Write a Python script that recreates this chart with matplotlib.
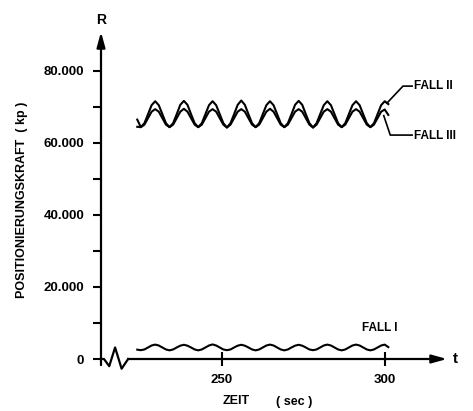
import matplotlib.pyplot as plt

plt.rcParams['font.family'] = ['Liberation Sans', 'DejaVu Sans']
plt.rcParams['font.weight'] = 'bold'

# time samples (sec), read about every 1.1 s along the curves
zeit = [224.0, 225.1, 226.2, 227.3, 228.4, 229.5, 230.6, 231.7, 232.8, 233.9,
        235.0, 236.1, 237.2, 238.3, 239.4, 240.5, 241.6, 242.7, 243.8, 244.9,
        246.0, 247.1, 248.2, 249.3, 250.4, 251.5, 252.6, 253.7, 254.8, 255.9,
        257.0, 258.1, 259.2, 260.3, 261.4, 262.5, 263.6, 264.7, 265.8, 266.9,
        268.0, 269.1, 270.2, 271.3, 272.4, 273.5, 274.6, 275.7, 276.8, 277.9,
        279.0, 280.1, 281.2, 282.3, 283.4, 284.5, 285.6, 286.7, 287.8, 288.9,
        290.0, 291.1, 292.2, 293.3, 294.4, 295.5, 296.6, 297.7, 298.8, 299.9,
        301.0]

# positionierungskraft (kp)
fall_1 = [2600, 2450, 2650, 3200, 3750, 4000, 3750, 3200,
          2650, 2400, 2650, 3200, 3700, 3950, 3700, 3200,
          2650, 2400, 2650, 3200, 3750, 4050, 3750, 3200,
          2650, 2450, 2650, 3200, 3700, 3950, 3700, 3200,
          2650, 2400, 2650, 3200, 3750, 4000, 3750, 3200,
          2650, 2400, 2650, 3200, 3700, 3950, 3700, 3200,
          2650, 2450, 2650, 3200, 3750, 4000, 3750, 3200,
          2650, 2400, 2650, 3200, 3750, 4000, 3750, 3200,
          2650, 2400, 2650, 3200, 3750, 4000, 3300]

fall_2 = [66500, 64400, 65500, 68000, 70500, 71600, 70500, 68000,
          65500, 64400, 65500, 68000, 70600, 71700, 70600, 68000,
          65500, 64400, 65500, 68000, 70500, 71600, 70500, 68000,
          65500, 64300, 65500, 68000, 70600, 71800, 70600, 68000,
          65500, 64400, 65500, 68000, 70500, 71600, 70500, 68000,
          65500, 64400, 65500, 68000, 70600, 71700, 70600, 68000,
          65500, 64300, 65500, 68000, 70500, 71600, 70500, 68000,
          65500, 64400, 65500, 68000, 70500, 71600, 70500, 68000,
          65500, 64400, 65500, 68000, 70500, 71600, 70800]

fall_3 = [64500, 64400, 65100, 66900, 68700, 69400, 68700, 66900,
          65100, 64400, 65100, 66900, 68700, 69500, 68700, 66900,
          65100, 64400, 65100, 66900, 68700, 69400, 68700, 66900,
          65100, 64300, 65100, 66900, 68700, 69400, 68700, 66900,
          65100, 64400, 65100, 66900, 68700, 69500, 68700, 66900,
          65100, 64400, 65100, 66900, 68700, 69400, 68700, 66900,
          65100, 64300, 65100, 66900, 68700, 69400, 68700, 66900,
          65100, 64400, 65100, 66900, 68700, 69400, 68700, 66900,
          65100, 64400, 65100, 66900, 68700, 69300, 67800]

y_ticks = [0, 20000, 40000, 60000, 80000]
y_tick_labels = ['0', '20.000', '40.000', '60.000', '80.000']
y_minor = [10000, 30000, 50000, 70000]
x_ticks = [250, 300]
x_tick_labels = ['250', '300']

# axis break symbol at the start of the time axis
break_t = [212.88, 213.8, 215.4, 217.2, 219.2, 221.2]
break_r = [0, 0, -2000, 3200, -2700, 0]

fig = plt.figure(figsize=(4.73, 4.11), dpi=100)
ax = fig.add_axes([101 / 473, 52 / 411, 346 / 473, 327 / 411])
ax.set_xlim(212.88, 319.0)
ax.set_ylim(0, 90830)
for s in ax.spines.values():
    s.set_visible(False)

ax.plot(zeit, fall_2, color='k', lw=1.5, solid_joinstyle='round')
ax.plot(zeit, fall_3, color='k', lw=1.5, solid_joinstyle='round')
ax.plot(zeit, fall_1, color='k', lw=1.5, solid_joinstyle='round')

# axes with arrows
ax.plot(break_t, break_r, color='k', lw=1.6, clip_on=False)
ax.annotate('', xy=(1.0, 0), xycoords=('axes fraction', 'data'),
            xytext=(221.2, 0), textcoords='data',
            arrowprops=dict(arrowstyle='-|>,head_length=0.9,head_width=0.25',
                            color='k', lw=1.6, shrinkA=0, shrinkB=0))
ax.annotate('', xy=(212.88, 90830), xycoords='data',
            xytext=(212.88, -1700), textcoords='data',
            arrowprops=dict(arrowstyle='-|>,head_length=0.9,head_width=0.25',
                            color='k', lw=1.6, shrinkA=0, shrinkB=0))

ax.set_yticks(y_ticks)
ax.set_yticklabels(y_tick_labels)
ax.set_yticks(y_minor, minor=True)
ax.set_xticks(x_ticks)
ax.set_xticklabels(x_tick_labels)
ax.tick_params(axis='y', which='both', direction='out', length=6, width=1.5,
               pad=6, labelsize=9.5)
ax.tick_params(axis='x', direction='inout', length=10, width=1.5,
               pad=6, labelsize=9.5)

# labels of the cases with leader lines
ax.plot([300.6, 305.5, 308.3], [71100, 75800, 75800], color='k', lw=1.2,
        clip_on=False)
ax.plot([299.6, 301.6, 308.3], [67600, 62200, 62200], color='k', lw=1.2,
        clip_on=False)
ax.text(308.9, 75800, 'FALL II', fontsize=8.5, va='center', ha='left')
ax.text(308.9, 62000, 'FALL III', fontsize=8.5, va='center', ha='left')
ax.text(292.9, 8600, 'FALL I', fontsize=8.5, va='center', ha='left')

ax.text(212.88, 94300, 'R', fontsize=10, va='center', ha='center')
ax.text(321.5, 0, 't', fontsize=11, va='center', ha='center')
ax.text(254.3, -11700, 'ZEIT', fontsize=9, va='center', ha='center')
ax.text(272.1, -11900, '( sec )', fontsize=9, va='center', ha='center')

fig.text(22 / 473, 1 - 200 / 411, 'POSITIONIERUNGSKRAFT  ( kp )', fontsize=9,
         fontweight='bold', rotation=90, va='center', ha='center')

plt.savefig('out.png', dpi=100)
